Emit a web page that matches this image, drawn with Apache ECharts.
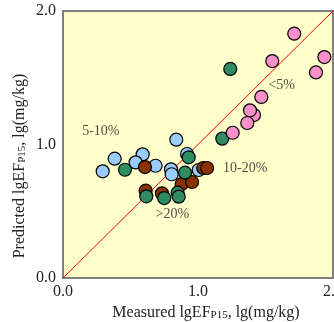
<!DOCTYPE html>
<html>
<head>
<meta charset="utf-8">
<script src="https://cdn.jsdelivr.net/npm/echarts@6/dist/echarts.min.js"></script>
<style>
  html, body { margin: 0; padding: 0; background: #fff; }
  #root { width: 334px; height: 322px; }
</style>
</head>
<body>
<div id="root"></div>
<script>
// values, [measured, predicted]
const lessThan5 = [
  [1.713, 1.83], [1.55, 1.625], [1.936, 1.655], [1.874, 1.54], [1.469, 1.356],
  [1.415, 1.221], [1.385, 1.256], [1.365, 1.161], [1.257, 1.088]
];
const from5to10 = [
  [0.839, 1.036], [0.919, 0.929], [0.383, 0.894], [0.59, 0.926], [0.538, 0.866],
  [0.686, 0.841], [0.294, 0.799], [0.8, 0.814], [0.805, 0.777], [1.005, 0.809]
];
const from10to20 = [
  [0.607, 0.831], [1.039, 0.824], [1.067, 0.824], [0.879, 0.704], [0.956, 0.719],
  [0.612, 0.654], [0.733, 0.634]
];
const over20 = [
  [1.239, 1.566], [1.18, 1.044], [0.931, 0.904], [0.459, 0.811], [0.904, 0.789],
  [0.849, 0.639], [0.857, 0.609], [0.617, 0.612], [0.75, 0.599]
];
const oneToOne = [[0, 0], [2, 2]];
const groupLabels = [
  { text: '<5%', at: [1.62, 1.44] },
  { text: '5-10%', at: [0.28, 1.1] },
  { text: '10-20%', at: [1.35, 0.82] },
  { text: '>20%', at: [0.81, 0.48] }
];

const font = '"Liberation Serif", "Times New Roman", serif';
const chart = echarts.init(document.getElementById('root'));

const dots = (data, color) => ({
  type: 'scatter',
  data,
  symbolSize: 13,
  itemStyle: { color, borderColor: '#000', borderWidth: 1.2, opacity: 1 },
  z: 3
});

chart.setOption({
  animation: false,
  textStyle: { fontFamily: font },
  grid: {
    left: 63, right: 1, top: 11, bottom: 44,
    outerBoundsMode: 'none', containLabel: false,
    show: true, backgroundColor: '#ffffcc', borderColor: '#7f7f7f', borderWidth: 2
  },
  xAxis: {
    type: 'value', min: 0, max: 2, interval: 1,
    axisLine: { show: false }, axisTick: { show: false }, splitLine: { show: false },
    axisLabel: { color: '#222', fontSize: 16, fontFamily: font, margin: 6, formatter: v => v.toFixed(1) },
    name: '{a|Measured lgEF}{s|P15}{a|, lg(mg/kg)}',
    nameLocation: 'middle', nameGap: 24,
    nameTextStyle: {
      padding: [0, 0, 0, 16],
      rich: {
        a: { fontSize: 16, color: '#222', fontFamily: font },
        s: { fontSize: 11, color: '#222', fontFamily: font, padding: [5, 0, 0, 0] }
      }
    }
  },
  yAxis: {
    type: 'value', min: 0, max: 2, interval: 1,
    axisLine: { show: false }, axisTick: { show: false }, splitLine: { show: false },
    axisLabel: { color: '#222', fontSize: 16, fontFamily: font, margin: 7, formatter: v => v.toFixed(1) }
  },
  graphic: [{
    type: 'text',
    x: 20, y: 166,
    rotation: Math.PI / 2,
    style: {
      text: '{a|Predicted lgEF}{s|P15}{a|, lg(mg/kg)}',
      align: 'center', verticalAlign: 'middle',
      rich: {
        a: { fontSize: 16, fill: '#222', fontFamily: font },
        s: { fontSize: 11, fill: '#222', fontFamily: font, padding: [5, 0, 0, 0] }
      }
    }
  }],
  series: [
    {
      type: 'line', data: oneToOne, symbol: 'none',
      lineStyle: { color: '#ff0000', width: 1 }, z: 2
    },
    dots(from5to10, '#99ccff'),
    dots(from10to20, '#8b3300'),
    dots(over20, '#2e8b62'),
    dots(lessThan5, '#f990c9'),
    {
      type: 'scatter', symbolSize: 0, z: 4,
      data: groupLabels.map(g => ({ value: g.at, name: g.text })),
      label: {
        show: true, position: 'inside', formatter: p => p.name,
        fontSize: 14, color: '#222', fontFamily: font
      }
    }
  ]
});
</script>
</body>
</html>
